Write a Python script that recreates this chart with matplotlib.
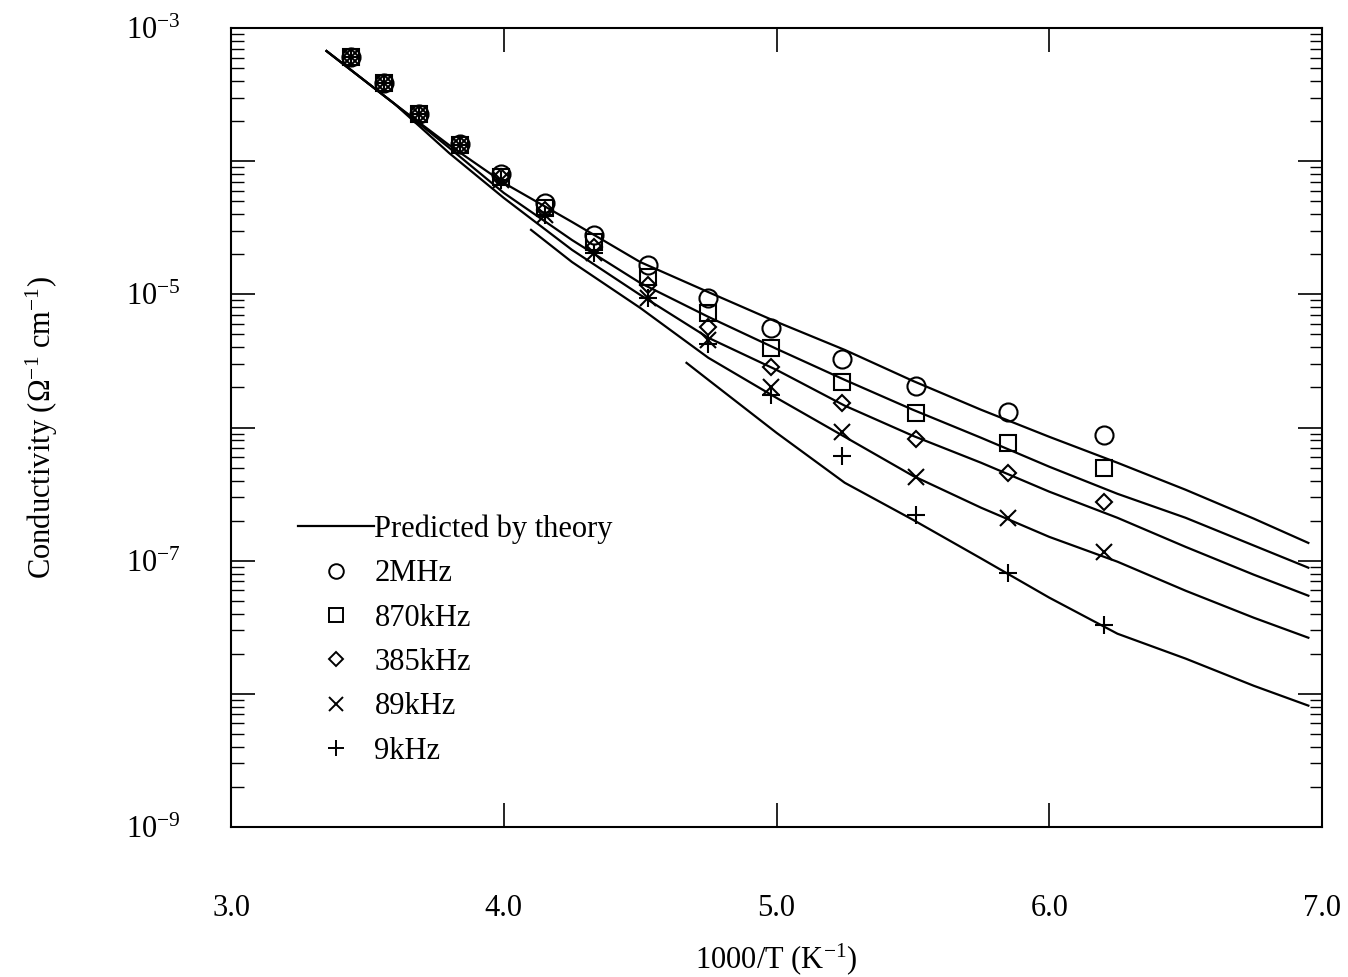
import math
import matplotlib
matplotlib.use("Agg")
import matplotlib.pyplot as plt
from matplotlib.ticker import LogLocator, FuncFormatter, NullFormatter
from matplotlib.lines import Line2D

plt.rcParams['font.family'] = ['Liberation Serif', 'DejaVu Serif']
plt.rcParams['mathtext.fontset'] = 'custom'
plt.rcParams['mathtext.rm'] = 'Liberation Serif'
plt.rcParams['mathtext.it'] = 'Liberation Serif:italic'

# ---- measured data (1000/T, conductivity in ohm^-1 cm^-1) ----
inv_T = [3.44, 3.56, 3.69, 3.84, 3.99, 4.15, 4.33, 4.53, 4.75, 4.98, 5.24, 5.51, 5.85, 6.20]
sig_2MHz = [6.06e-4, 3.87e-4, 2.26e-4, 1.35e-4, 8.02e-5, 4.86e-5, 2.80e-5, 1.66e-5,
            9.41e-6, 5.61e-6, 3.28e-6, 2.06e-6, 1.31e-6, 8.82e-7]
sig_870k = [6.06e-4, 3.87e-4, 2.26e-4, 1.32e-4, 7.62e-5, 4.46e-5, 2.48e-5, 1.35e-5,
            7.26e-6, 3.97e-6, 2.20e-6, 1.29e-6, 7.68e-7, 4.99e-7]
sig_385k = [6.06e-4, 3.87e-4, 2.26e-4, 1.32e-4, 7.62e-5, 4.31e-5, 2.27e-5, 1.18e-5,
            5.70e-6, 2.86e-6, 1.53e-6, 8.23e-7, 4.57e-7, 2.77e-7]
sig_89k = [6.06e-4, 3.87e-4, 2.26e-4, 1.32e-4, 7.23e-5, 3.95e-5, 2.05e-5, 9.41e-6,
           4.55e-6, 2.02e-6, 9.29e-7, 4.27e-7, 2.10e-7, 1.17e-7]
sig_9k = [6.06e-4, 3.87e-4, 2.26e-4, 1.32e-4, 7.23e-5, 3.95e-5, 2.05e-5, 9.41e-6,
          4.25e-6, 1.76e-6, 6.14e-7, 2.21e-7, 8.13e-8, 3.31e-8]

# ---- theory curves ----
x_theory = [3.35, 3.60, 3.80, 4.00, 4.25, 4.50, 4.75, 5.00, 5.25, 5.50, 5.75, 6.00, 6.25, 6.50, 6.75, 6.95]
th_2MHz = [6.72e-4, 2.69e-4, 1.32e-4, 6.87e-5, 3.50e-5, 1.75e-5, 1.04e-5, 6.22e-6,
           3.83e-6, 2.24e-6, 1.36e-6, 8.52e-7, 5.44e-7, 3.41e-7, 2.07e-7, 1.36e-7]
th_870k = [6.72e-4, 2.69e-4, 1.26e-4, 5.78e-5, 2.56e-5, 1.22e-5, 6.78e-6, 3.90e-6,
           2.28e-6, 1.36e-6, 8.38e-7, 5.08e-7, 3.18e-7, 2.10e-7, 1.30e-7, 8.86e-8]
th_385k = [6.72e-4, 2.69e-4, 1.15e-4, 5.30e-5, 2.16e-5, 9.91e-6, 4.72e-6, 2.71e-6,
           1.46e-6, 8.67e-7, 5.44e-7, 3.30e-7, 2.10e-7, 1.27e-7, 7.85e-8, 5.46e-8]
x_theory_89k = [4.10, 4.25, 4.50, 4.75, 5.00, 5.25, 5.50, 5.75, 6.00, 6.25, 6.50, 6.75, 6.95]
th_89k = [3.05e-5, 1.75e-5, 7.92e-6, 3.34e-6, 1.67e-6, 8.52e-7, 4.34e-7, 2.50e-7,
          1.51e-7, 9.83e-8, 5.95e-8, 3.73e-8, 2.64e-8]
x_theory_9k = [4.67, 4.75, 5.00, 5.25, 5.50, 5.75, 6.00, 6.25, 6.50, 6.75, 6.95]
th_9k = [3.06e-6, 2.28e-6, 9.13e-7, 3.85e-7, 2.03e-7, 1.04e-7, 5.28e-8, 2.83e-8,
         1.84e-8, 1.15e-8, 8.16e-9]

x_ticks = [3.0, 4.0, 5.0, 6.0, 7.0]
x_ticklabels = ["3.0", "4.0", "5.0", "6.0", "7.0"]
labelled_exponents = [-3, -5, -7, -9]
legend_labels = ['Predicted by theory', '2MHz', '870kHz', '385kHz', '89kHz', '9kHz']

FS = 22

fig = plt.figure(figsize=(13.48, 9.77), dpi=100)
ax = fig.add_axes([0.1714, 0.1535, 0.8093, 0.8178])

lw = 1.6
for xs, ys in [(x_theory, th_2MHz), (x_theory, th_870k), (x_theory, th_385k),
               (x_theory_89k, th_89k), (x_theory_9k, th_9k)]:
    ax.plot(xs, ys, color='black', lw=lw, zorder=2)

mk = dict(color='black', linestyle='none', markerfacecolor='none', markeredgecolor='black', zorder=3)
ax.plot(inv_T, sig_2MHz, marker='o', ms=13, mew=1.5, **mk)
ax.plot(inv_T, sig_870k, marker='s', ms=11.5, mew=1.5, **mk)
ax.plot(inv_T, sig_385k, marker='D', ms=8.5, mew=1.5, **mk)
ax.plot(inv_T, sig_89k, marker='x', ms=12, mew=1.5, **mk)
ax.plot(inv_T, sig_9k, marker='+', ms=13, mew=1.5, **mk)

ax.set_xlim(3.0, 7.0)
ax.set_ylim(1e-9, 1e-3)
ax.set_yscale('log')

ax.set_xticks(x_ticks)
ax.set_xticklabels(x_ticklabels)
ax.tick_params(axis='x', which='major', direction='in', length=17, width=1.2,
               top=True, bottom=True, pad=48, labelsize=FS)

ax.yaxis.set_major_locator(LogLocator(base=10, numticks=20))
ax.yaxis.set_minor_locator(LogLocator(base=10, subs=range(2, 10), numticks=20))
ax.yaxis.set_minor_formatter(NullFormatter())

def yfmt(v, pos):
    e = int(round(math.log10(v)))
    if e in labelled_exponents:
        return r'$\mathregular{10^{%d}}$' % e
    return ''
ax.yaxis.set_major_formatter(FuncFormatter(yfmt))
ax.tick_params(axis='y', which='major', direction='in', length=17, width=1.2,
               left=True, right=True, pad=36, labelsize=FS)
ax.tick_params(axis='y', which='minor', direction='in', length=9, width=1.0,
               left=True, right=True)

for s in ax.spines.values():
    s.set_linewidth(1.5)

ax.set_xlabel(r'1000/T (K$^{-1}$)', fontsize=FS, labelpad=13)
ax.set_ylabel(r'Conductivity ($\Omega^{-1}$ cm$^{-1}$)', fontsize=FS, labelpad=48)

handles = [Line2D([], [], color='black', lw=lw),
           Line2D([], [], marker='o', ls='none', ms=10.5, mfc='none', mec='black', mew=1.4),
           Line2D([], [], marker='s', ls='none', ms=9.5, mfc='none', mec='black', mew=1.4),
           Line2D([], [], marker='D', ls='none', ms=7.5, mfc='none', mec='black', mew=1.4),
           Line2D([], [], marker='x', ls='none', ms=10.5, mfc='none', mec='black', mew=1.4),
           Line2D([], [], marker='+', ls='none', ms=12, mfc='none', mec='black', mew=1.4)]
ax.legend(handles, legend_labels, loc='upper left', bbox_to_anchor=(0.0614, 0.391),
          frameon=False, fontsize=FS, handlelength=2.5, handletextpad=0.0,
          labelspacing=0.50, borderpad=0.0, borderaxespad=0.0)

fig.savefig('out.png', dpi=100)
